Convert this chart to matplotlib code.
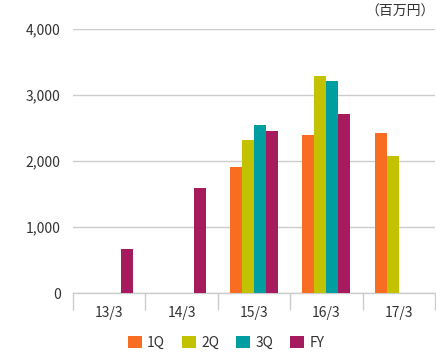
import matplotlib
matplotlib.use("Agg")
import matplotlib.pyplot as plt
from matplotlib.patches import Patch
import numpy as np

plt.rcParams['font.family'] = ['Noto Sans CJK JP', 'DejaVu Sans']

categories = ["13/3", "14/3", "15/3", "16/3", "17/3"]
series_names = ["1Q", "2Q", "3Q", "FY"]
q1 = [None, None, 1910, 2400, 2430]
q2 = [None, None, 2320, 3290, 2080]
q3 = [None, None, 2550, 3215, None]
fy = [670, 1600, 2460, 2715, None]
yticks = [0, 1000, 2000, 3000, 4000]
ytick_labels = ["0", "1,000", "2,000", "3,000", "4,000"]
colors = ["#F96D22", "#C2C200", "#009DA1", "#A51B5D"]

fig = plt.figure(figsize=(4.36, 3.6), dpi=100)
ax = fig.add_axes([73/436, 1 - 293.3/360, (435-73)/436, (293.3-29)/360])

n = len(categories)
x = np.arange(n)
w = 0.166
for i, (vals, c) in enumerate(zip([q1, q2, q3, fy], colors)):
    xs = [x[j] + (i - 2) * w for j in range(n) if vals[j] is not None]
    hs = [v for v in vals if v is not None]
    ax.bar(xs, hs, width=w, align='edge', color=c, zorder=3, linewidth=0)

fs = 10
ax.set_xlim(-0.5, n - 0.5)
ax.set_ylim(0, 4000)
ax.set_yticks(yticks)
ax.set_yticklabels(ytick_labels)
ax.yaxis.grid(True, color="#CCCCCC", linewidth=1)
ax.set_axisbelow(True)
for s in ["top", "right", "left"]:
    ax.spines[s].set_visible(False)
ax.spines["bottom"].set_color("#CCCCCC")
ax.spines["bottom"].set_linewidth(1)
ax.tick_params(axis='y', length=0, pad=9, labelsize=fs, labelcolor="#333333")

ax.set_xticks(x)
ax.set_xticklabels(categories)
ax.set_xticks(np.arange(-0.5, n, 1), minor=True)
ax.tick_params(axis='x', which='major', length=0, pad=9, labelsize=fs, labelcolor="#333333")
ax.tick_params(axis='x', which='minor', length=12, width=1, color="#CCCCCC", direction='out')

fig.text(435/436, 1 - 12/360, "（百万円）", ha='right', va='center', fontsize=fs, color="#333333")

handles = [Patch(facecolor=c, edgecolor='none') for c in colors]
fig.legend(handles, series_names, loc='center', bbox_to_anchor=(226/436, 1 - 343/360),
           ncol=4, frameon=False, fontsize=fs, handlelength=1.0, handleheight=1.0,
           handletextpad=0.4, columnspacing=1.2, labelcolor="#333333")

fig.savefig("out.png", dpi=100)
